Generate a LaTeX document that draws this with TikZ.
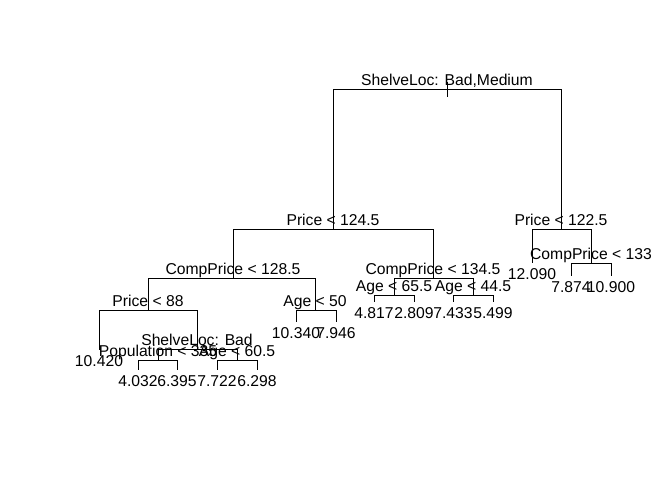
\documentclass[tikz,border=0pt]{standalone}
\usepackage{fontspec}
\setmainfont{Liberation Sans}
\begin{document}
\begin{tikzpicture}[x=1pt,y=-1pt,
  branch/.style={draw=black,line width=0.9pt},
  txt/.style={anchor=base,inner sep=0pt,outer sep=0pt,font=\fontsize{15.7}{18}\selectfont}]
\useasboundingbox[fill=white] (0,0) rectangle (672,480);
% split points
\coordinate (root) at (447,89);
\coordinate (rootTop) at (447,82);
\coordinate (rootBot) at (447,97);
\coordinate (nA) at (333,229);
\coordinate (nB) at (561,229);
\coordinate (nC) at (233,278);
\coordinate (nD) at (433,278);
\coordinate (nE) at (148,310);
\coordinate (nF) at (315,310);
\coordinate (nG) at (394,295);
\coordinate (nH) at (473,295);
\coordinate (nI) at (591,263);
\coordinate (nJ) at (197,349);
\coordinate (nK) at (158,360);
\coordinate (nL) at (237,360);
% leaves
\coordinate (lE1) at (99,350);
\coordinate (lK1) at (138,370);
\coordinate (lK2) at (177,370);
\coordinate (lL1) at (217,370);
\coordinate (lL2) at (257,370);
\coordinate (lF1) at (296,322);
\coordinate (lF2) at (336,322);
\coordinate (lG1) at (374,302);
\coordinate (lG2) at (414,302);
\coordinate (lH1) at (453,302);
\coordinate (lH2) at (493,302);
\coordinate (lB1) at (532,263);
\coordinate (lI1) at (571,276);
\coordinate (lI2) at (611,276);
% branches
\draw[branch] (rootTop) -- (rootBot);
\draw[branch] (root) -| (nA);
\draw[branch] (root) -| (nB);
\draw[branch] (nA) -| (nC);
\draw[branch] (nA) -| (nD);
\draw[branch] (nB) -| (lB1);
\draw[branch] (nB) -| (nI);
\draw[branch] (nC) -| (nE);
\draw[branch] (nC) -| (nF);
\draw[branch] (nD) -| (nG);
\draw[branch] (nD) -| (nH);
\draw[branch] (nE) -| (lE1);
\draw[branch] (nE) -| (nJ);
\draw[branch] (nF) -| (lF1);
\draw[branch] (nF) -| (lF2);
\draw[branch] (nG) -| (lG1);
\draw[branch] (nG) -| (lG2);
\draw[branch] (nH) -| (lH1);
\draw[branch] (nH) -| (lH2);
\draw[branch] (nI) -| (lI1);
\draw[branch] (nI) -| (lI2);
\draw[branch] (nJ) -| (nK);
\draw[branch] (nJ) -| (nL);
\draw[branch] (nK) -| (lK1);
\draw[branch] (nK) -| (lK2);
\draw[branch] (nL) -| (lL1);
\draw[branch] (nL) -| (lL2);
% split labels
\node[txt] (tRoot) at ([yshift=3.5]root) {ShelveLoc: Bad,Medium};
\node[txt] (tA) at ([yshift=3.5]nA) {Price < 124.5};
\node[txt] (tB) at ([yshift=3.5]nB) {Price < 122.5};
\node[txt] (tC) at ([yshift=3.5]nC) {CompPrice < 128.5};
\node[txt] (tD) at ([yshift=3.5]nD) {CompPrice < 134.5};
\node[txt] (tE) at ([yshift=3.5]nE) {Price < 88};
\node[txt] (tF) at ([yshift=3.5]nF) {Age < 50};
\node[txt] (tG) at ([yshift=3.5]nG) {Age < 65.5};
\node[txt] (tH) at ([yshift=3.5]nH) {Age < 44.5};
\node[txt] (tI) at ([yshift=3.5]nI) {CompPrice < 133};
\node[txt] (tJ) at ([yshift=3.5]nJ) {ShelveLoc: Bad};
\node[txt] (tK) at ([yshift=3.5]nK) {Population < 335};
\node[txt] (tL) at ([yshift=3.5]nL) {Age < 60.5};
% leaf labels
\node[txt] (vE1) at ([yshift=-16]lE1) {10.420};
\node[txt] (vK1) at ([yshift=-16.5]lK1) {4.032};
\node[txt] (vK2) at ([yshift=-16.5]lK2) {6.395};
\node[txt] (vL1) at ([yshift=-16.5]lL1) {7.722};
\node[txt] (vL2) at ([yshift=-16.5]lL2) {6.298};
\node[txt] (vF1) at ([yshift=-16]lF1) {10.340};
\node[txt] (vF2) at ([yshift=-16]lF2) {7.946};
\node[txt] (vG1) at ([yshift=-16]lG1) {4.817};
\node[txt] (vG2) at ([yshift=-16]lG2) {2.809};
\node[txt] (vH1) at ([yshift=-16]lH1) {7.433};
\node[txt] (vH2) at ([yshift=-16]lH2) {5.499};
\node[txt] (vB1) at ([yshift=-16]lB1) {12.090};
\node[txt] (vI1) at ([yshift=-16]lI1) {7.874};
\node[txt] (vI2) at ([yshift=-16]lI2) {10.900};
\end{tikzpicture}
\end{document}
